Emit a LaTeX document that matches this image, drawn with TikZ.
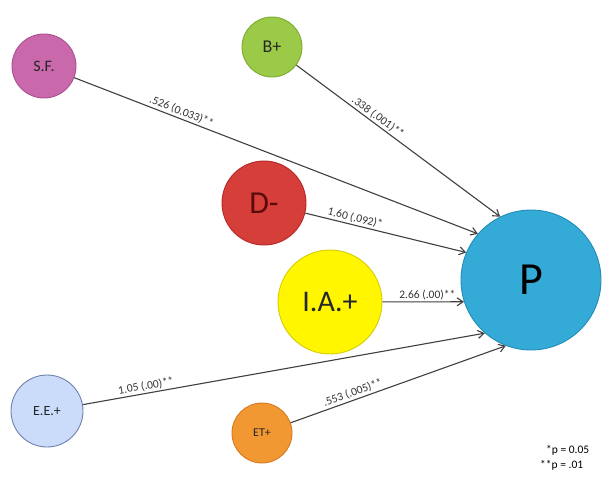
\documentclass[tikz,border=0pt]{standalone}
\usepackage{fontspec}
\setmainfont{Carlito}
\usetikzlibrary{arrows.meta}
\definecolor{sfc}{RGB}{202,104,172}
\definecolor{sfd}{RGB}{170,80,145}
\definecolor{bpc}{RGB}{155,202,72}
\definecolor{bpd}{RGB}{125,170,50}
\definecolor{dmc}{RGB}{214,62,58}
\definecolor{dmd}{RGB}{180,40,40}
\definecolor{iac}{RGB}{255,246,0}
\definecolor{iad}{RGB}{215,205,0}
\definecolor{pc}{RGB}{52,170,214}
\definecolor{pd}{RGB}{35,140,185}
\definecolor{eec}{RGB}{202,220,250}
\definecolor{eed}{RGB}{110,130,175}
\definecolor{etc}{RGB}{242,152,50}
\definecolor{etd}{RGB}{215,120,30}
\definecolor{arrowgray}{RGB}{64,64,64}
\begin{document}
\begin{tikzpicture}[x=1pt,y=-1pt,
  bub/.style={circle, inner sep=0pt, line width=0.9pt, text=black!85},
  arr/.style={draw=arrowgray, line width=1.1pt, -{Straight Barb[length=6pt,width=8pt]}},
  lab/.style={font=\fontsize{11.5}{13}\selectfont, text=black!80, sloped, above, inner sep=1.5pt},
  leg/.style={font=\fontsize{11.5}{13}\selectfont, anchor=west, inner sep=0pt}]
\useasboundingbox (0,0) rectangle (605,483);
\fill[white] (0,0) rectangle (605,483);
\node[bub, fill=sfc, draw=sfd, minimum size=64pt, font=\fontsize{16}{17}\selectfont] (SF) at (44,66) {S.F.};
\node[bub, fill=bpc, draw=bpd, minimum size=60pt, font=\fontsize{18}{19}\selectfont] (BP) at (272,47) {B+};
\node[bub, fill=dmc, draw=dmd, minimum size=84pt, font=\fontsize{32}{34}\selectfont, text={rgb,255:red,90;green,10;blue,10}] (DM) at (264,203) {D-};
\node[bub, fill=iac, draw=iad, minimum size=104pt, font=\fontsize{30}{32}\selectfont] (IA) at (330,302) {I.A.+};
\node[bub, fill=eec, draw=eed, minimum size=72pt, font=\fontsize{14}{15}\selectfont] (EE) at (47,411) {E.E.+};
\node[bub, fill=etc, draw=etd, minimum size=60pt, font=\fontsize{12}{13}\selectfont] (ET) at (262,433) {ET+};
\node[bub, fill=pc, draw=pd, minimum size=140pt, font=\fontsize{46}{48}\selectfont, text=black] (P) at (531,280) {P};
\draw[arr] (SF) -- (P.139) node[lab, pos=0.26] {.526 (0.033)**};
\draw[arr] (BP) -- (P.116) node[lab, pos=0.38] {.338 (.001)**};
\draw[arr] (DM) -- (P.157) node[lab, pos=0.3] {1.60 (.092)*};
\draw[arr] (IA) -- (P.198) node[lab, pos=0.55] {2.66 (.00)**};
\draw[arr] (EE) -- (P.229) node[lab, pos=0.16] {1.05 (.00)**};
\draw[arr] (ET) -- (P.249) node[lab, pos=0.3] {.553 (.005)**};
\node[leg] (L1) at (546,450) {*p = 0.05};
\node[leg] (L2) at (540,465) {**p = .01};
\end{tikzpicture}
\end{document}
